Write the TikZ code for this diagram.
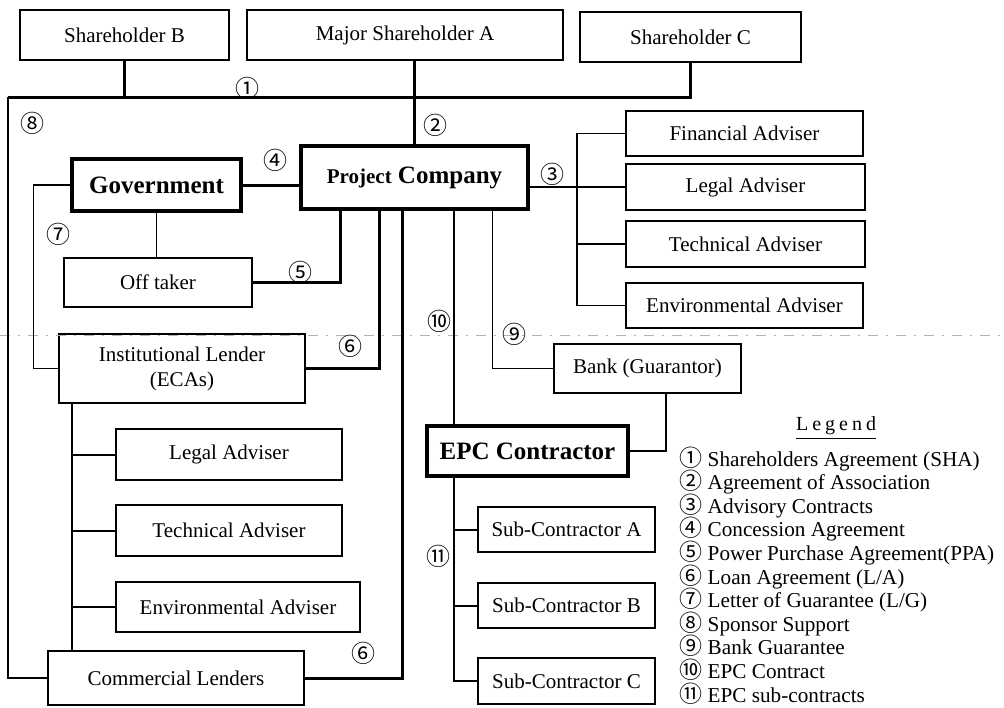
\documentclass[tikz,border=0pt]{standalone}
\usepackage{fontspec}
\setmainfont{Liberation Serif}
\newfontfamily\circfont{Noto Sans CJK JP}
\usetikzlibrary{calc, positioning}

\newcommand{\cnum}[1]{\smash{\circfont\fontsize{11.5}{11.8}\selectfont #1}}

\tikzset{
  party/.style={draw, line width=0.9pt, inner sep=1pt, align=center, font=\fontsize{10.5}{12.5}\selectfont},
  keyparty/.style={party, line width=1.6pt, font=\fontsize{12.5}{14}\selectfont\bfseries},
  num/.style={font=\circfont\fontsize{12}{13}\selectfont, inner sep=0pt},
  heavy/.style={line width=1.5pt},
  medium/.style={line width=1pt},
  light/.style={line width=0.65pt}
}

\begin{document}
\begin{tikzpicture}[x=0.5pt, y=-0.5pt]
\useasboundingbox (0,0) rectangle (1004,707);

% shareholders
\node[party, minimum width=104.5pt, minimum height=25pt] (shb) at (124.5,35) {Shareholder B};
\node[party, minimum width=158pt, minimum height=25pt] (sha) at (405,35) {\vphantom{S}Major Shareholder A};
\node[party, minimum width=110.5pt, minimum height=25pt] (shc) at (690.5,37) {Shareholder C};

% project company and government side
\node[keyparty, minimum width=113.5pt, minimum height=31.5pt] (pc) at (414.5,177.5) {{\fontsize{10.5}{12}\selectfont Project} Company};
\node[keyparty, minimum width=84.5pt, minimum height=26pt] (gov) at (156.5,185) {Government};
\node[party, minimum width=94pt, minimum height=24.5pt] (off) at (158,282.5) {Off taker};

% lenders
\node[party, minimum width=123pt, minimum height=34.5pt] (il) at (182,368.5) {Institutional Lender\\(ECAs)};
\node[party, minimum width=113pt, minimum height=25.5pt] (ilegal) at (229,454.5) {Legal Adviser};
\node[party, minimum width=113pt, minimum height=25.5pt] (itech) at (229,530.5) {Technical Adviser};
\node[party, minimum width=122pt, minimum height=25pt] (ienv) at (238,607) {Environmental Adviser};
\node[party, minimum width=128pt, minimum height=27pt] (cl) at (176,678) {Commercial Lenders};

% company advisers
\node[party, minimum width=118.5pt, minimum height=22.5pt] (fin) at (744.5,133.5) {Financial Adviser};
\node[party, minimum width=119.5pt, minimum height=23pt] (legal) at (745.5,187) {Legal Adviser};
\node[party, minimum width=119.5pt, minimum height=23pt] (tech) at (745.5,244) {Technical Adviser};
\node[party, minimum width=118.5pt, minimum height=22.5pt] (env) at (744.5,305.5) {Environmental Adviser};

% construction side
\node[party, minimum width=93.5pt, minimum height=24.5pt] (bank) at (647.5,368.5) {Bank (Guarantor)};
\node[keyparty, minimum width=100.5pt, minimum height=25pt] (epc) at (527.5,451) {EPC Contractor};
\node[party, minimum width=88.5pt, minimum height=22.5pt] (suba) at (566.5,529.5) {Sub-Contractor A};
\node[party, minimum width=88.5pt, minimum height=22.5pt] (subb) at (566.5,605.5) {Sub-Contractor B};
\node[party, minimum width=88.5pt, minimum height=23pt] (subc) at (566.5,681) {Sub-Contractor C};

% scan fold
\draw[gray!60, line width=0.4pt, dash pattern=on 5pt off 4pt on 1pt off 4pt] (0,335) -- (1004,335);

% shareholders agreement and sponsor support
\coordinate (busl) at (8,97);
\draw[heavy] (shc.south) |- (busl);
\draw[medium] (busl) |- (cl.west);
\draw[heavy] (shb.south) -- (shb.south |- busl);
\draw[heavy] (pc.north |- sha.south) -- (pc.north);

% concession, off take, guarantee
\draw[heavy] (gov.east) -- (gov.east -| pc.west);
\draw[light] (gov.south) -- (gov.south |- off.north);
\draw[light] (gov.west) -- ++(-37,0) |- (il.west);
\draw[heavy] (off.east) -| ($(pc.south west)!.18!(pc.south east)$);

% advisory contracts
\coordinate (advbus) at (577,0);
\draw[light] (pc.east |- legal.west) -- (legal.west);
\draw[light] (fin.west) -- (fin.west -| advbus) |- (env.west);
\draw[light] (tech.west -| advbus) -- (tech.west);

% loan agreements
\draw[heavy] (il.east) -| ($(pc.south west)!.35!(pc.south east)$);
\draw[heavy] (cl.east) -| ($(pc.south west)!.45!(pc.south east)$);
\coordinate (ilbus) at ($(il.south west)+(14,0)$);
\draw[medium] (ilbus) -- (ilbus |- cl.north);
\draw[medium] (ilbus |- ilegal.west) -- (ilegal.west);
\draw[medium] (ilbus |- itech.west) -- (itech.west);
\draw[medium] (ilbus |- ienv.west) -- (ienv.west);

% EPC contract and sub-contracts
\coordinate (epcline) at ($(pc.south west)!.67!(pc.south east)$);
\draw[medium] (epcline) -- (epcline |- epc.north);
\draw[medium] (epcline |- epc.south) |- (subc.west);
\draw[medium] (epcline |- suba.west) -- (suba.west);
\draw[medium] (epcline |- subb.west) -- (subb.west);

% bank guarantee
\draw[light] ($(pc.south west)!.84!(pc.south east)$) |- (bank.west);
\draw[medium] ($(bank.south west)!.6!(bank.south east)$) |- (epc.east);

% numbers
\node[num] (n1) at (247,88) {①};
\node[num] (n2) at (435,125) {②};
\node[num] (n3) at (552,174) {③};
\node[num] (n4) at (275,160) {④};
\node[num] (n5) at (300,272) {⑤};
\node[num] (n6a) at (350,346) {⑥};
\node[num] (n6b) at (363,653) {⑥};
\node[num] (n7) at (58,234) {⑦};
\node[num] (n8) at (32,123) {⑧};
\node[num] (n9) at (514,334) {⑨};
\node[num] (n10) at (439,321) {⑩};
\node[num] (n11) at (438,556) {⑪};

% legend
\node[font=\fontsize{10}{11}\selectfont\addfontfeatures{LetterSpace=20}, inner sep=0pt] (legendtitle) at (836,428) {\underline{Legend}};
\node[anchor=north west, align=left, inner sep=0pt, font=\fontsize{10.6}{11.8}\selectfont] (legend) at (679,451) {%
\cnum{①} Shareholders Agreement (SHA)\\
\cnum{②} Agreement of Association\\
\cnum{③} Advisory Contracts\\
\cnum{④} Concession Agreement\\
\cnum{⑤} Power Purchase Agreement(PPA)\\
\cnum{⑥} Loan Agreement (L/A)\\
\cnum{⑦} Letter of Guarantee (L/G)\\
\cnum{⑧} Sponsor Support\\
\cnum{⑨} Bank Guarantee\\
\cnum{⑩} EPC Contract\\
\cnum{⑪} EPC sub-contracts};
\end{tikzpicture}
\end{document}
